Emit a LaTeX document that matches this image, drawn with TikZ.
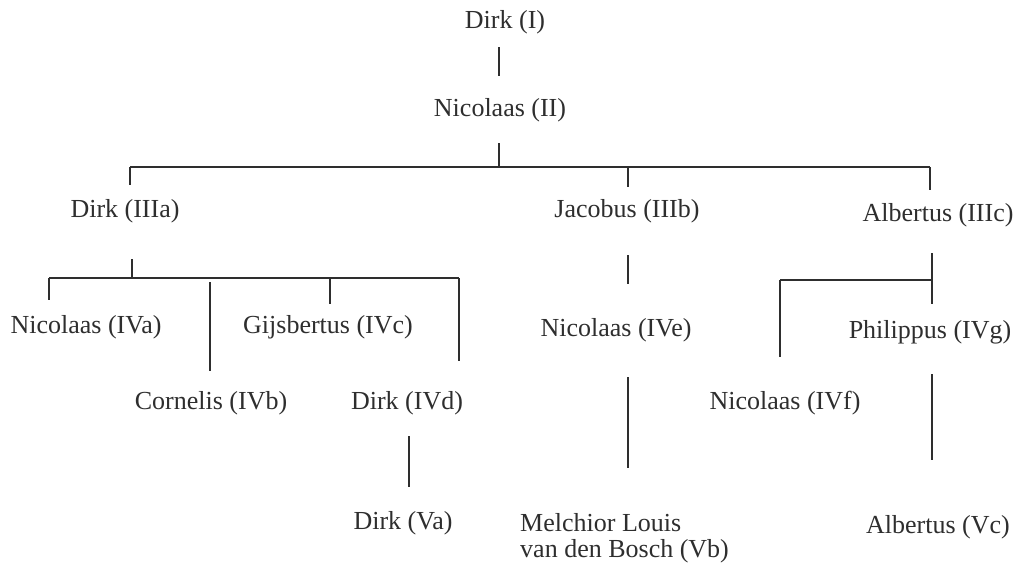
\documentclass[tikz,border=0pt]{standalone}
\usepackage{fontspec}
\setmainfont{Liberation Serif}
\definecolor{ink}{HTML}{2E2E2E}
\begin{document}
\begin{tikzpicture}[x=1pt,y=-1pt,
  person/.style={inner sep=0pt, text=ink, font=\fontsize{26}{26}\selectfont},
  link/.style={draw=ink, line width=1.2pt}]
\useasboundingbox (0,0) rectangle (1017,563);
% people
\node[person] (dI)    at (505,22)  {Dirk (I)};
\node[person] (nII)   at (500,110) {Nicolaas (II)};
\node[person] (dIIIa) at (125,211) {Dirk (IIIa)};
\node[person] (jIIIb) at (627,211) {Jacobus (IIIb)};
\node[person] (aIIIc) at (938,215) {Albertus (IIIc)};
\node[person] (nIVa)  at (86,327)  {Nicolaas (IVa)};
\node[person] (gIVc)  at (328,327) {Gijsbertus (IVc)};
\node[person] (cIVb)  at (211,403) {Cornelis (IVb)};
\node[person] (dIVd)  at (407,403) {Dirk (IVd)};
\node[person] (dVa)   at (403,523) {Dirk (Va)};
\node[person] (nIVe)  at (616,330) {Nicolaas (IVe)};
\node[person, anchor=west, align=left] (mVb) at (520,538) {Melchior Louis\\van den Bosch (Vb)};
\node[person] (pIVg)  at (930,332) {Philippus (IVg)};
\node[person] (nIVf)  at (785,403) {Nicolaas (IVf)};
\node[person] (aVc)   at (938,527) {Albertus (Vc)};
% connector points
\coordinate (i1) at (499,47);  \coordinate (i2) at (499,76);
\coordinate (ii1) at (499,143); \coordinate (ii2) at (499,167);
\coordinate (busL) at (130,167); \coordinate (busR) at (930,167);
\coordinate (ta) at (130,185); \coordinate (tbt) at (628,167); \coordinate (tb) at (628,187);
\coordinate (tc) at (930,190);
\coordinate (a1) at (132,259); \coordinate (a2) at (132,278);
\coordinate (aL) at (49,278); \coordinate (aR) at (459,278);
\coordinate (va) at (49,300);
\coordinate (vb1) at (210,282); \coordinate (vb2) at (210,371);
\coordinate (vct) at (330,278); \coordinate (vc) at (330,304);
\coordinate (vd) at (459,361);
\coordinate (d1) at (409,436); \coordinate (d2) at (409,487);
\coordinate (j1) at (628,255); \coordinate (j2) at (628,284);
\coordinate (e1) at (628,377); \coordinate (e2) at (628,468);
\coordinate (c1) at (932,253); \coordinate (c2) at (932,304);
\coordinate (cj) at (932,280); \coordinate (cL) at (780,280); \coordinate (vf) at (780,357);
\coordinate (g1) at (932,374); \coordinate (g2) at (932,460);
% connectors
\draw[link] (i1) -- (i2);
\draw[link] (ii1) -- (ii2);
\draw[link] (busL) -- (busR);
\draw[link] (busL) -- (ta);
\draw[link] (tbt) -- (tb);
\draw[link] (busR) -- (tc);
\draw[link] (a1) -- (a2);
\draw[link] (aL) -- (aR);
\draw[link] (aL) -- (va);
\draw[link] (vb1) -- (vb2);
\draw[link] (vct) -- (vc);
\draw[link] (aR) -- (vd);
\draw[link] (d1) -- (d2);
\draw[link] (j1) -- (j2);
\draw[link] (e1) -- (e2);
\draw[link] (c1) -- (c2);
\draw[link] (cL) -- (cj);
\draw[link] (cL) -- (vf);
\draw[link] (g1) -- (g2);
\end{tikzpicture}
\end{document}
